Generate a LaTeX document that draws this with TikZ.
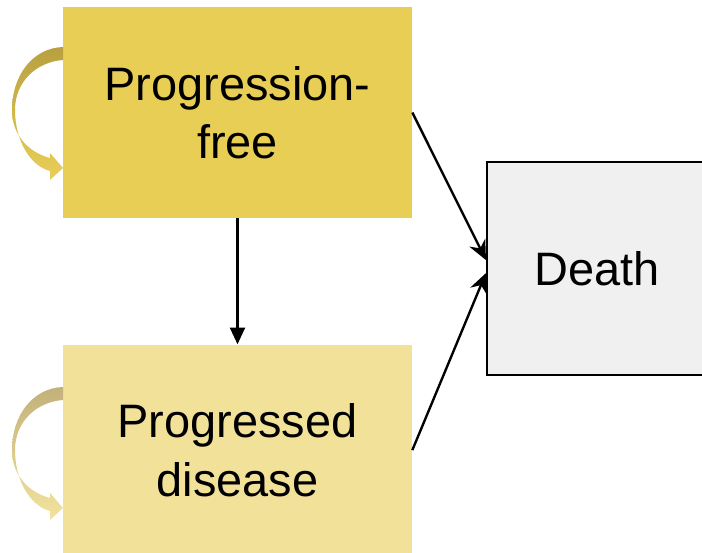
\documentclass[tikz,border=0pt]{standalone}
\usepackage{fontspec}
\setmainfont{Liberation Sans}
\usetikzlibrary{arrows.meta,positioning}
\definecolor{pfgold}{HTML}{E8CE55}
\definecolor{pdgold}{HTML}{F2E299}
\definecolor{deathgray}{HTML}{F0F0F0}

\begin{document}
\begin{tikzpicture}[x=0.02cm, y=-0.02cm, font=\fontsize{26.7}{33.2}\selectfont,
  state/.style={minimum width=6.98cm, minimum height=4.22cm, inner sep=0pt, align=center},
  link/.style={line width=1.35pt, -{Stealth[length=11pt,width=10pt]}}]
\useasboundingbox (0,0) rectangle (702,553);

% health states
\node[state, fill=pfgold] (pf) at (237.5,112.5) {Progression-\\free};
\node[state, fill=pdgold, below=2.52cm of pf] (pd) {Progressed\\disease};
\node[state, fill=deathgray, draw, line width=1.2pt, minimum width=4.4cm, minimum height=4.26cm] (death) at (597,268.5) {Death};

% transitions
\draw[line width=1.35pt, -{Triangle[length=9.5pt,width=8.5pt]}] (pf) -- (pd);
\draw[link] (pf.east) -- ([yshift=4.8pt]death.west);
\draw[link] (pd.east) -- ([yshift=-2.6pt]death.west);

% staying in the same state
\foreach \dy/\ca/\cb in {0/B8A040/E9CF58, 340/C2B27A/F3E39E} {
  \definecolor{loopA}{HTML}{\ca}\definecolor{loopB}{HTML}{\cb}
  \shade[top color=loopA, bottom color=loopB, middle color=loopA!50!loopB]
    (63,47+\dy) .. controls (33,48+\dy) and (12,75+\dy) .. (12,110+\dy)
    .. controls (12,135+\dy) and (28,152+\dy) .. (50,158+\dy)
    -- (50,153+\dy) -- (63,168+\dy) -- (50,180+\dy) -- (50,171+\dy)
    .. controls (30,166+\dy) and (15,140+\dy) .. (15,110+\dy)
    .. controls (15,82+\dy) and (36,62+\dy) .. (63,60+\dy) -- cycle; }
\end{tikzpicture}
\end{document}
